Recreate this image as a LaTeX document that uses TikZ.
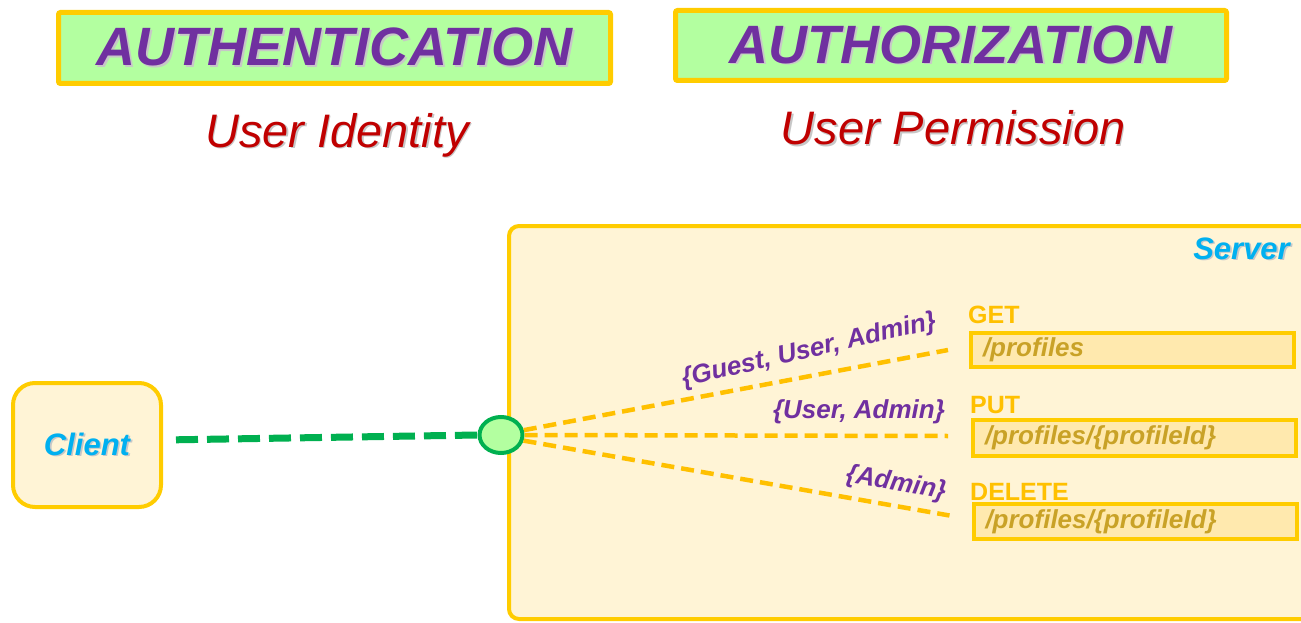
\documentclass[tikz,border=0pt]{standalone}
\usepackage{fontspec}
\setmainfont{Liberation Sans}
\usetikzlibrary{shapes.geometric}

\definecolor{bordery}{HTML}{FFCC00}
\definecolor{dashy}{HTML}{FFC000}
\definecolor{cream}{HTML}{FFF4D6}
\definecolor{routefill}{HTML}{FFE9AE}
\definecolor{mint}{HTML}{B3FFA0}
\definecolor{grape}{HTML}{7030A0}
\definecolor{crimson}{HTML}{C00000}
\definecolor{sky}{HTML}{00B0F0}
\definecolor{leaf}{HTML}{00B050}
\definecolor{ochre}{HTML}{C9A227}

% text with a soft grey drop shadow behind it
\newcommand\dropshade[1]{\leavevmode\rlap{\kern1.6pt\raisebox{-1.6pt}{\textcolor{black!22}{#1}}}#1}
\newcommand\fs[1]{\fontsize{#1}{#1}\selectfont}

\tikzset{
  titlebox/.style={draw=bordery, line width=5pt, fill=mint, rounded corners=2pt,
    inner sep=0pt, text=grape, font=\fs{54}\bfseries\itshape},
  subtitle/.style={inner sep=0pt, text=crimson, font=\fs{47}\itshape, anchor=base},
  clientbox/.style={draw=bordery, line width=4pt, fill=cream, rounded corners=22pt,
    inner sep=0pt, text=sky, font=\fs{31}\bfseries\itshape},
  serverbox/.style={draw=bordery, line width=4pt, fill=cream, rounded corners=10pt, inner sep=0pt},
  hubnode/.style={ellipse, draw=leaf, line width=4pt, fill=mint, inner sep=0pt,
    minimum width=43pt, minimum height=36pt},
  routebox/.style={draw=bordery, line width=4pt, fill=routefill, inner xsep=12pt, inner ysep=0pt,
    text width=299pt, align=left, text=ochre, font=\fs{26}\bfseries\itshape},
  verb/.style={inner sep=0pt, anchor=base west, text=dashy, font=\fs{25}\bfseries},
  rolelabel/.style={inner sep=0pt, text=grape, font=\fs{26}\bfseries\itshape},
  greenlink/.style={draw=leaf, line width=7pt, dash pattern=on 22pt off 9pt},
  yellowlink/.style={draw=dashy, line width=4.5pt, dash pattern=on 13pt off 7pt},
}

\begin{document}
\begin{tikzpicture}[x=1pt,y=-1pt]
\useasboundingbox (0,0) rectangle (1301,623);
\clip (0,0) rectangle (1301,623);

% headings
\node[titlebox, minimum width=552pt, minimum height=71pt] (authn) at (334.5,48) {\dropshade{AUTHENTICATION}};
\node[titlebox, minimum width=551pt, minimum height=70pt] (authz) at (951,45.5) {\dropshade{AUTHORIZATION}};
\node[subtitle] (identity) at (337,147) {\dropshade{User Identity}};
\node[subtitle] (permission) at (953,145) {\dropshade{User Permission}};

% server container
\node[serverbox, minimum width=811pt, minimum height=393pt] (server) at (914.5,422.5) {};
\node[inner sep=0pt, anchor=base east, text=sky, font=\fs{31}\bfseries\itshape] (servername) at (1290,259) {\dropshade{Server}};

% client and entry point
\node[clientbox, minimum width=148pt, minimum height=124pt] (client) at (87,445) {\dropshade{Client}};
\node[hubnode] (hub) at (501,435) {};

% routes
\node[verb] (getverb) at (968,323) {GET};
\node[routebox, minimum width=323pt, minimum height=34pt] (getroute) at (1132.5,350) {/profiles};
\node[verb] (putverb) at (970,413) {PUT};
\node[routebox, minimum width=323pt, minimum height=36pt] (putroute) at (1134.5,438) {/profiles/\{profileId\}};
\node[verb] (delverb) at (970,500) {DELETE};
\node[routebox, minimum width=322pt, minimum height=35pt] (delroute) at (1135,521.5) {/profiles/\{profileId\}};

% connectors
\draw[greenlink, shorten <=13pt] ([yshift=5pt]client.east) -- (hub.west);
\draw[yellowlink] (hub.12) -- ([xshift=-21pt]getroute.west);
\draw[yellowlink] (hub.east) -- ([xshift=-23pt,yshift=2pt]putroute.west);
\draw[yellowlink] (hub.-14) -- ([xshift=-22pt,yshift=6pt]delroute.west);

% allowed roles
\node[rolelabel, rotate=13] (getroles) at (809,351) {\{Guest, User, Admin\}};
\node[rolelabel] (putroles) at (859,412) {\{User, Admin\}};
\node[rolelabel, rotate=-10] (delroles) at (896,484) {\{Admin\}};
\end{tikzpicture}
\end{document}
